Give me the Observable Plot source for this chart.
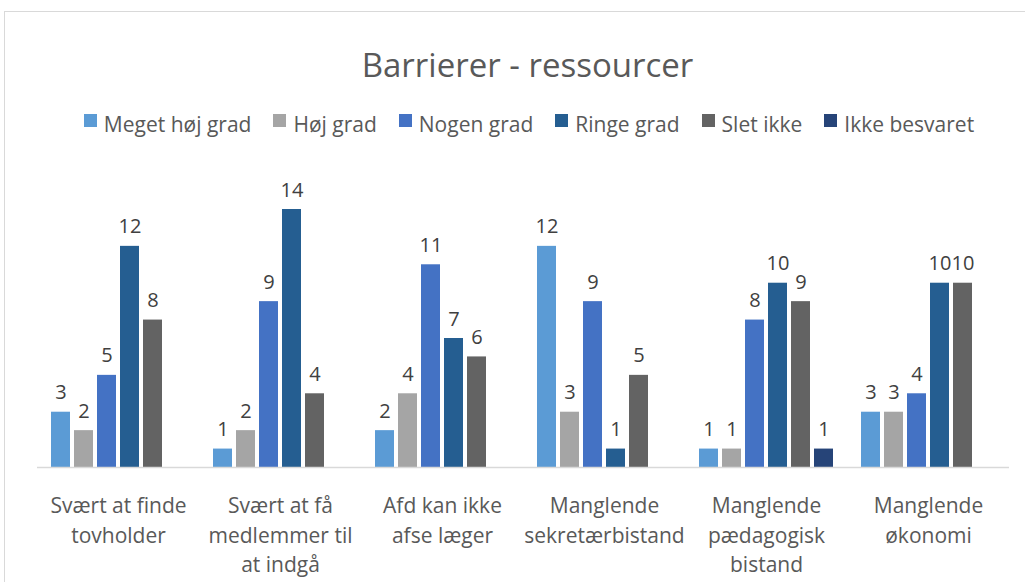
<!DOCTYPE html>
<html>
<head>
<meta charset="utf-8">
<script src="https://cdn.jsdelivr.net/npm/d3@7"></script>
<script src="https://cdn.jsdelivr.net/npm/@observablehq/plot@0.6"></script>
<style>
  html, body { margin: 0; padding: 0; background: #fff; }
  #wrap { position: relative; width: 1025px; height: 582px; overflow: hidden; font-family: "Open Sans", sans-serif; }
  #border { position: absolute; left: 4px; top: 11px; width: 1100px; height: 700px; border: 1px solid #d9d9d9; box-sizing: border-box; }
  #title { position: absolute; left: 0; width: 1055px; top: 45px; text-align: center; font-size: 33px; line-height: 40px; color: #595959; }
  #legend { position: absolute; left: 0; width: 1058px; top: 110px; display: flex; justify-content: center; font-size: 21px; line-height: 28px; color: #595959; }
  .item { display: flex; align-items: center; margin-right: 22px; }
  .item:last-child { margin-right: 0; }
  .sw { width: 13px; height: 13px; margin-right: 7px; margin-top: -7px; }
  #chart { position: absolute; left: 0; top: 150px; }
</style>
</head>
<body>
<div id="wrap">
  <div id="border"></div>
  <div id="title">Barrierer - ressourcer</div>
  <div id="legend"></div>
  <div id="chart"></div>
</div>
<script>
const categories = [
  "Svært at finde tovholder",
  "Svært at få medlemmer til at indgå",
  "Afd kan ikke afse læger",
  "Manglende sekretærbistand",
  "Manglende pædagogisk bistand",
  "Manglende økonomi"
];
const categoryLines = [
  "Svært at finde\ntovholder",
  "Svært at få\nmedlemmer til\nat indgå",
  "Afd kan ikke\nafse læger",
  "Manglende\nsekretærbistand",
  "Manglende\npædagogisk\nbistand",
  "Manglende\nøkonomi"
];
const series = ["Meget høj grad", "Høj grad", "Nogen grad", "Ringe grad", "Slet ikke", "Ikke besvaret"];
const colors = ["#5B9BD5", "#A5A5A5", "#4472C4", "#255E91", "#636363", "#264478"];

const megetHojGrad = [3, 1, 2, 12, 1, 3];
const hojGrad      = [2, 2, 4, 3, 1, 3];
const nogenGrad    = [5, 9, 11, 9, 8, 4];
const ringeGrad    = [12, 14, 7, 1, 10, 10];
const sletIkke     = [8, 4, 6, 5, 9, 10];
const ikkeBesvaret = [null, null, null, null, 1, null];

const seriesValues = [megetHojGrad, hojGrad, nogenGrad, ringeGrad, sletIkke, ikkeBesvaret];
const data = [];
categories.forEach((c, i) => {
  series.forEach((s, j) => {
    const v = seriesValues[j][i];
    if (v != null) data.push({cat: c, series: s, value: v});
  });
});
const labelOf = new Map(categories.map((c, i) => [c, categoryLines[i]]));

// legend
const legend = document.getElementById("legend");
series.forEach((s, j) => {
  const it = document.createElement("div");
  it.className = "item";
  const sw = document.createElement("div");
  sw.className = "sw";
  sw.style.background = colors[j];
  const tx = document.createElement("span");
  tx.textContent = s;
  it.appendChild(sw); it.appendChild(tx);
  legend.appendChild(it);
});

const chart = Plot.plot({
  width: 1025,
  height: 432,
  marginLeft: 37,
  marginRight: 16,
  marginTop: 59,
  marginBottom: 115,
  style: {fontFamily: "Open Sans, sans-serif", background: "transparent", overflow: "visible"},
  fx: {domain: categories, padding: 0, label: null},
  x: {domain: series, paddingInner: 0.174, paddingOuter: 0.6, axis: null},
  y: {domain: [0, 14], axis: null},
  color: {domain: series, range: colors},
  marks: [
    Plot.axisFx({anchor: "bottom", tickSize: 0, tickPadding: 25, fontSize: 21, lineHeight: 1.4,
      lineAnchor: "top", fill: "#595959", tickFormat: d => labelOf.get(d), label: null}),
    Plot.barY(data, {fx: "cat", x: "series", y: "value", fill: "series"}),
    Plot.ruleY([0], {stroke: "#d9d9d9", strokeWidth: 1.5}),
    Plot.text(data, {fx: "cat", x: "series", y: "value", text: d => String(d.value),
      lineAnchor: "bottom", dy: -13, fontSize: 20, fill: "#404040"})
  ]
});
document.getElementById("chart").appendChild(chart);
</script>
</body>
</html>
